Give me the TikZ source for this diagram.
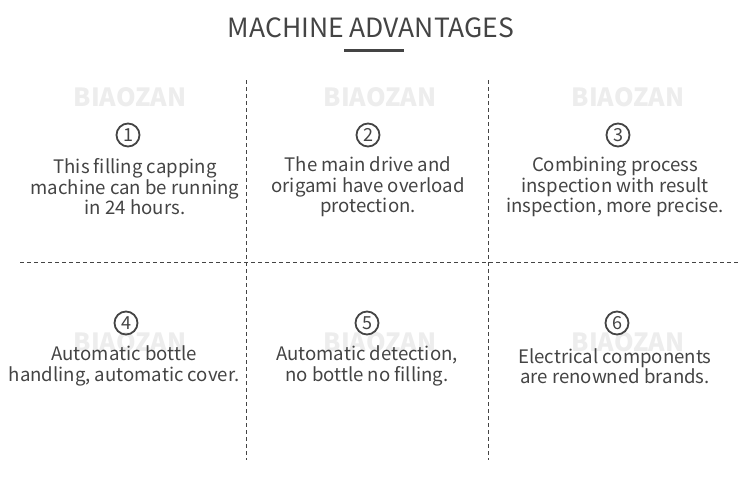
\documentclass[tikz,border=0pt]{standalone}
\usepackage{fontspec}
\newfontfamily\cjk{Noto Sans CJK SC}
\definecolor{ink}{HTML}{444444}

\begin{document}
\begin{tikzpicture}[x=1pt,y=-1pt,
  txt/.style={font=\cjk\fontsize{18.6}{20.5}\selectfont,text=ink,align=center,inner sep=0pt},
  num/.style={circle,draw=ink,line width=1.8pt,minimum size=23pt,inner sep=0pt,
    font=\cjk\fontsize{18}{18}\selectfont,text=ink},
  wmark/.style={font=\cjk\bfseries\fontsize{25}{25}\selectfont,text=black!7,inner sep=0pt},
  sep/.style={draw=ink,line width=0.8pt,dash pattern=on 4pt off 3pt}]
  \useasboundingbox[fill=white] (0,0) rectangle (750,477);
  % watermarks
  \foreach \x in {130,380,628}
    \foreach \y in {97,342}
      \node[wmark] (wm-\x-\y) at (\x,\y) {BIAOZAN};
  % title
  \node[font=\cjk\fontsize{26.5}{26.5}\selectfont,text=ink,inner sep=0pt] (title) at (371,28) {MACHINE ADVANTAGES};
  \fill[ink] (344,48.5) rectangle (404,52);
  % grid
  \coordinate (v1t) at (246,80);  \coordinate (v1b) at (246,460);
  \coordinate (v2t) at (488,80);  \coordinate (v2b) at (488,460);
  \coordinate (hl) at (20,262);   \coordinate (hr) at (740,262);
  \draw[sep] (v1t) -- (v1b);
  \draw[sep] (v2t) -- (v2b);
  \draw[sep] (hl) -- (hr);
  % top row
  \node[num] (n1) at (128,135) {1};
  \node[num] (n2) at (368,135) {2};
  \node[num] (n3) at (618,135) {3};
  \node[txt] (t1) at (135,187) {This filling capping\\machine can be running\\in 24 hours.};
  \node[txt] (t2) at (368,187) {The main drive and\\origami have overload\\protection.};
  \node[txt] (t3) at (615,187) {Combining process\\inspection with result\\inspection, more precise.};
  % bottom row
  \node[num] (n4) at (126,323) {4};
  \node[num] (n5) at (367,323) {5};
  \node[num] (n6) at (617,323) {6};
  \node[txt] (t4) at (124,366) {Automatic bottle\\handling, automatic cover.};
  \node[txt] (t5) at (367,366) {Automatic detection,\\no bottle no filling.};
  \node[txt] (t6) at (615,366) {Electrical components\\are renowned brands.};
\end{tikzpicture}
\end{document}
